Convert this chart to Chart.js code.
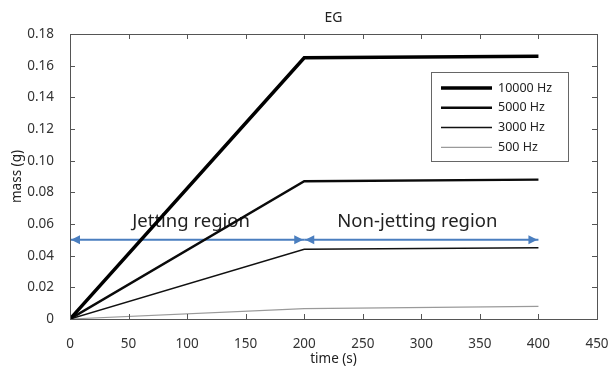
<!DOCTYPE html>
<html><head><meta charset="utf-8">
<script src="https://cdn.jsdelivr.net/npm/chart.js@4/dist/chart.umd.min.js"></script>
<style>html,body{margin:0;padding:0;background:#fff}#wrap{width:610px;height:372px}</style>
</head><body><div id="wrap"><canvas id="c" width="610" height="372"></canvas></div>
<script>
// ---- data ----
const time = [0, 200, 400];
const mass10000 = [0, 0.165, 0.166];
const mass5000 = [0, 0.087, 0.088];
const mass3000 = [0, 0.044, 0.045];
const mass500 = [0, 0.0065, 0.008];
const seriesLabels = ['10000 Hz', '5000 Hz', '3000 Hz', '500 Hz'];
const xTicks = [0, 50, 100, 150, 200, 250, 300, 350, 400, 450];
const yTicks = [0, 0.02, 0.04, 0.06, 0.08, 0.10, 0.12, 0.14, 0.16, 0.18];
const regionLabels = ['Jetting region', 'Non-jetting region'];
const regionStart = [0, 200];
const regionEnd = [200, 400];
const arrowY = 0.05;

const FONT = "'Noto Sans', 'DejaVu Sans', sans-serif";
const pts = arr => time.map((t, i) => ({x: t, y: arr[i]}));

const seriesStyles = [
  {c: '#000000', w: 3.5},
  {c: '#0a0a0a', w: 2.4},
  {c: '#111111', w: 1.5},
  {c: '#9a9a9a', w: 1.2}
];
const seriesData = [mass10000, mass5000, mass3000, mass500];

const datasets = seriesData.map((d, i) => ({
  label: seriesLabels[i], data: pts(d), borderColor: seriesStyles[i].c,
  borderWidth: seriesStyles[i].w, pointRadius: 0, fill: false, tension: 0, order: 1,
  isSeries: true
}));
regionLabels.forEach((lab, i) => {
  datasets.push({
    label: lab, data: [{x: regionStart[i], y: arrowY}, {x: regionEnd[i], y: arrowY}],
    borderColor: '#4a7ebf', borderWidth: 2, pointRadius: 0, fill: false, order: 10,
    isArrow: true
  });
});

const decor = {
  id: 'decor',
  beforeDatasetsDraw(chart) {
    const ctx = chart.ctx, xs = chart.scales.x, ys = chart.scales.y;
    ctx.save();
    ctx.fillStyle = '#222';
    ctx.font = '18.5px ' + FONT;
    ctx.textAlign = 'center';
    ctx.textBaseline = 'middle';
    regionLabels.forEach((lab, i) => {
      const cx = (xs.getPixelForValue(regionStart[i]) + xs.getPixelForValue(regionEnd[i])) / 2;
      const cy = ys.getPixelForValue(arrowY) - 18;
      ctx.fillText(lab, cx + (i === 0 ? 4 : -4), cy);
    });
    ctx.restore();
  },
  afterDatasetsDraw(chart) {
    const ctx = chart.ctx, xs = chart.scales.x, ys = chart.scales.y, a = chart.chartArea;
    ctx.save();
    chart.data.datasets.forEach((ds, i) => {
      if (!ds.isArrow) return;
      const m = chart.getDatasetMeta(i).data;
      const p0 = m[0], p1 = m[1];
      ctx.fillStyle = ds.borderColor;
      const L = 9, H = 4.5;
      ctx.beginPath();
      ctx.moveTo(p0.x + 1, p0.y); ctx.lineTo(p0.x + 1 + L, p0.y - H); ctx.lineTo(p0.x + 1 + L, p0.y + H); ctx.closePath(); ctx.fill();
      ctx.beginPath();
      ctx.moveTo(p1.x - 1, p1.y); ctx.lineTo(p1.x - 1 - L, p1.y - H); ctx.lineTo(p1.x - 1 - L, p1.y + H); ctx.closePath(); ctx.fill();
    });
    ctx.strokeStyle = '#555';
    ctx.lineWidth = 1;
    ctx.strokeRect(Math.round(a.left) + 0.5, Math.round(a.top) + 0.5, Math.round(a.right - a.left), Math.round(a.bottom - a.top));
    const T = 5;
    ctx.beginPath();
    xTicks.forEach(v => {
      const x = Math.round(xs.getPixelForValue(v)) + 0.5;
      ctx.moveTo(x, a.bottom); ctx.lineTo(x, a.bottom - T);
      ctx.moveTo(x, a.top); ctx.lineTo(x, a.top + T);
    });
    yTicks.forEach(v => {
      const y = Math.round(ys.getPixelForValue(v)) + 0.5;
      ctx.moveTo(a.left, y); ctx.lineTo(a.left + T, y);
      ctx.moveTo(a.right, y); ctx.lineTo(a.right - T, y);
    });
    ctx.stroke();
    const lx = 431, ly = 72, lw = 137, lh = 89;
    ctx.fillStyle = '#fff';
    ctx.fillRect(lx, ly, lw, lh);
    ctx.strokeStyle = '#666';
    ctx.strokeRect(lx + 0.5, ly + 0.5, lw, lh);
    ctx.font = '12.5px ' + FONT;
    ctx.textAlign = 'left';
    ctx.textBaseline = 'middle';
    let row = 0;
    chart.data.datasets.forEach(ds => {
      if (!ds.isSeries) return;
      const y = ly + 16 + row * 19.8;
      ctx.strokeStyle = ds.borderColor;
      ctx.lineWidth = ds.borderWidth;
      ctx.beginPath(); ctx.moveTo(lx + 10, y); ctx.lineTo(lx + 61, y); ctx.stroke();
      ctx.fillStyle = '#222';
      ctx.fillText(ds.label, lx + 67, y);
      row++;
    });
    ctx.restore();
  }
};

new Chart(document.getElementById('c'), {
  type: 'line',
  data: {datasets},
  options: {
    responsive: false,
    animation: false,
    devicePixelRatio: 1,
    layout: {padding: {left: 0, right: 13, top: 0, bottom: 0}},
    plugins: {
      legend: {display: false},
      tooltip: {enabled: false},
      title: {
        display: true, text: 'EG', fullSize: false, color: '#222',
        font: {family: FONT, size: 14, weight: 'normal', lineHeight: 1.2},
        padding: {top: 10, bottom: 7.2}
      }
    },
    scales: {
      x: {
        type: 'linear', min: 0, max: 450,
        afterBuildTicks: s => { s.ticks = xTicks.map(v => ({value: v})); },
        afterFit: s => { s.height = 53; s.paddingRight = 0; s.paddingLeft = 0; },
        grid: {display: false}, border: {display: false},
        ticks: {color: '#333', padding: 9, font: {family: FONT, size: 13.5}, maxRotation: 0},
        title: {display: true, text: 'time (s)', color: '#222', font: {family: FONT, size: 13.5}, padding: {top: 0, bottom: 5}}
      },
      y: {
        type: 'linear', min: 0, max: 0.18,
        afterBuildTicks: s => { s.ticks = yTicks.map(v => ({value: v})); },
        afterFit: s => { s.width = 70; s.paddingTop = 0; s.paddingBottom = 0; },
        grid: {display: false}, border: {display: false},
        ticks: {color: '#333', padding: 8, font: {family: FONT, size: 13.5},
          callback: v => v === 0 ? '0' : v.toFixed(2)},
        title: {display: true, text: 'mass (g)', color: '#222', font: {family: FONT, size: 13.5}, padding: {top: 9, bottom: 0}}
      }
    }
  },
  plugins: [decor]
});
</script>
</body></html>
